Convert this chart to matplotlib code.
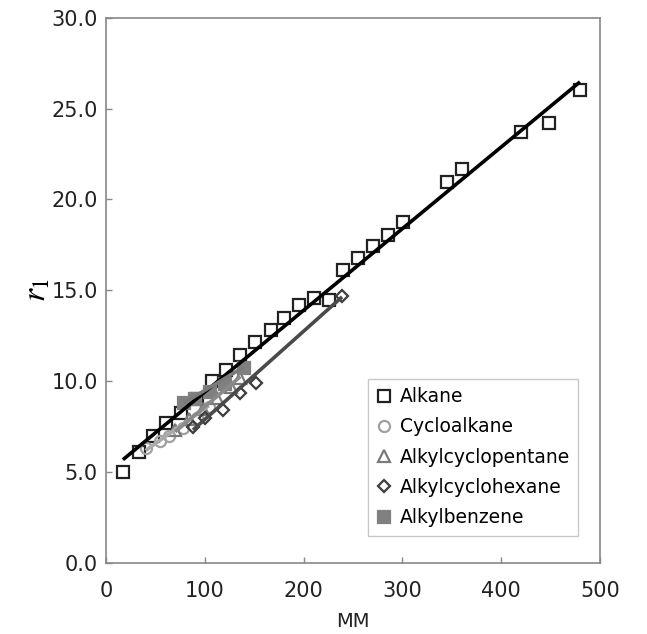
import matplotlib
matplotlib.use("Agg")
import matplotlib.pyplot as plt
import numpy as np

# ---- data ----
alkane_mm = [17, 33, 47, 61, 76, 92, 107, 121, 136, 151, 167, 180, 195, 211, 226,
             240, 255, 270, 286, 301, 345, 360, 420, 449, 480]
alkane_r1 = [5.0, 6.1, 7.0, 7.7, 8.25, 9.05, 10.0, 10.6, 11.45, 12.15, 12.8, 13.5, 14.2,
             14.6, 14.45, 16.1, 16.8, 17.45, 18.05, 18.75, 20.95, 21.7, 23.7, 24.2, 26.05]

cyclo_mm = [40, 55, 64, 78, 92, 104]
cyclo_r1 = [6.35, 6.7, 7.0, 7.4, 8.0, 8.6]

acp_mm = [70, 84, 98, 112, 126, 136]
acp_r1 = [7.3, 7.9, 8.5, 9.1, 9.7, 10.2]

ach_mm = [88, 100, 118, 136, 152, 239]
ach_r1 = [7.5, 8.0, 8.4, 9.35, 9.9, 14.7]

abz_mm = [79, 90, 105, 120, 140]
abz_r1 = [8.8, 9.0, 9.4, 9.85, 10.75]

# trend lines (slope, intercept)
alkane_fit = (0.0449, 4.92)
cyclo_fit = (0.0385, 4.65)
acp_fit = (0.046, 4.0)
ach_fit = (0.0485, 3.05)
abz_fit = (0.0325, 6.25)

labels = ["Alkane", "Cycloalkane", "Alkylcyclopentane", "Alkylcyclohexane", "Alkylbenzene"]
xticks = [0, 100, 200, 300, 400, 500]
yticks = [0, 5, 10, 15, 20, 25, 30]

plt.rcParams['font.family'] = ['DejaVu Sans']
plt.rcParams['mathtext.fontset'] = 'stix'

fig = plt.figure(figsize=(6.47, 6.34), dpi=100)
ax = fig.add_axes([0.164, 0.112, 0.763, 0.860])

ms = 8
mew = 1.6
series = [
    (alkane_mm, alkane_r1, alkane_fit, 's', '#222222', 'none', '#000000'),
    (cyclo_mm, cyclo_r1, cyclo_fit, 'o', '#a0a0a0', 'none', '#aaaaaa'),
    (acp_mm, acp_r1, acp_fit, '^', '#7a7a7a', 'none', '#8a8a8a'),
    (ach_mm, ach_r1, ach_fit, 'D', '#3c3c3c', 'none', '#4a4a4a'),
    (abz_mm, abz_r1, abz_fit, 's', '#808080', '#808080', '#7a7a7a'),
]
handles = []
for (xs, ys, fit, mk, ec, fc, lc), lab in zip(series, labels):
    size = ms if mk != 'D' else ms * 0.8
    h, = ax.plot(xs, ys, linestyle='none', marker=mk, markersize=size,
                 markeredgecolor=ec, markerfacecolor=fc, markeredgewidth=mew,
                 label=lab, zorder=3)
    handles.append(h)
for (xs, ys, fit, mk, ec, fc, lc) in series:
    xx = np.array([min(xs), max(xs)])
    ax.plot(xx, fit[0] * xx + fit[1], color=lc, lw=2.6, zorder=4,
            solid_capstyle='butt')

ax.set_xlim(0, 500)
ax.set_ylim(0, 30)
ax.set_xticks(xticks)
ax.set_yticks(yticks)
ax.set_xticklabels([str(v) for v in xticks])
ax.set_yticklabels([f"{v:.1f}" for v in yticks])
ax.tick_params(direction='in', length=4, width=1, color='#888888',
               labelsize=15, labelcolor='#222222')
ax.tick_params(axis='x', pad=13)
ax.tick_params(axis='y', pad=6)
for s in ax.spines.values():
    s.set_color('#888888')
    s.set_linewidth(1.2)

ax.set_xlabel("MM", fontsize=14, labelpad=8, color='#222222')
ax.set_ylabel(r"$r_1$", fontsize=24, labelpad=-1, rotation=90)

leg = ax.legend(handles=handles, loc='upper left', bbox_to_anchor=(0.53, 0.338),
                fontsize=13.5, frameon=True, fancybox=False, edgecolor='#bbbbbb',
                handlelength=0.8, handletextpad=0.45, labelspacing=0.6,
                borderpad=0.45, borderaxespad=0)
leg.get_frame().set_linewidth(1.0)

fig.savefig("out.png", dpi=100)
